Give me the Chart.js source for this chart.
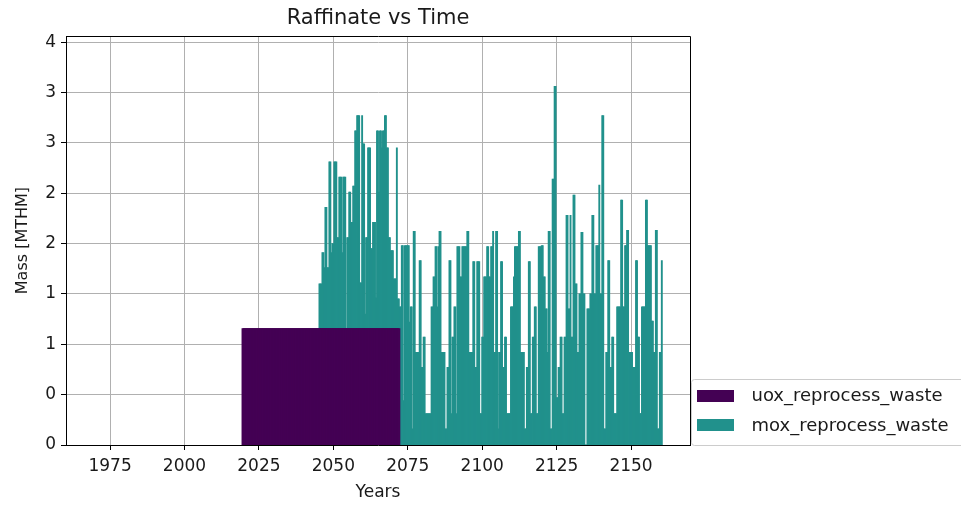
<!DOCTYPE html>
<html><head><meta charset="utf-8">
<script src="https://cdn.jsdelivr.net/npm/chart.js@4.4.1/dist/chart.umd.min.js"></script>
<style>html,body{margin:0;padding:0;background:#fff;}#wrap{width:961px;height:506px;}</style>
</head><body><div id="wrap"><canvas id="c" width="961" height="506"></canvas></div>
<script>
const seriesNames = ['uox_reprocess_waste', 'mox_reprocess_waste'];
const seriesColors = ['#440154', '#21918c'];
const timeStart = 2019 + 2 / 3;   // first time step (years)
const timeStep = 1 / 3;           // years per step
const uoxMass = [
1.15,1.15,1.15,1.15,1.15,1.15,1.15,1.15,1.15,1.15,1.15,1.15,1.15,1.15,1.15,1.15,1.15,1.15,1.15,1.15,
1.15,1.15,1.15,1.15,1.15,1.15,1.15,1.15,1.15,1.15,1.15,1.15,1.15,1.15,1.15,1.15,1.15,1.15,1.15,1.15,
1.15,1.15,1.15,1.15,1.15,1.15,1.15,1.15,1.15,1.15,1.15,1.15,1.15,1.15,1.15,1.15,1.15,1.15,1.15,1.15,
1.15,1.15,1.15,1.15,1.15,1.15,1.15,1.15,1.15,1.15,1.15,1.15,1.15,1.15,1.15,1.15,1.15,1.15,1.15,1.15,
1.15,1.15,1.15,1.15,1.15,1.15,1.15,1.15,1.15,1.15,1.15,1.15,1.15,1.15,1.15,1.15,1.15,1.15,1.15,1.15,
1.15,1.15,1.15,1.15,1.15,1.15,1.15,1.15,1.15,1.15,1.15,1.15,1.15,1.15,1.15,1.15,1.15,1.15,1.15,1.15,
1.15,1.15,1.15,1.15,1.15,1.15,1.15,1.15,1.15,1.15,1.15,1.15,1.15,1.15,1.15,1.15,1.15,1.15,1.15,1.15,
1.15,1.15,1.15,1.15,1.15,1.15,1.15,1.15,1.15,1.15,1.15,1.15,1.15,1.15,1.15,1.15,1.15,1.15
];
const moxStartIndex = 77;
const moxMass = [
0.45,0.45,0.45,0.76,0.76,0.61,1.21,1.21,0.61,0.61,
1.66,1.66,0.76,0.85,0.85,1.66,1.66,1.66,0.91,0.91,
1.51,1.51,1.51,0.76,1.51,1.51,1.51,0,0.91,0.91,
1.36,1.36,1.06,1.06,1.42,1.42,1.97,1.97,2.12,2.12,
2.12,0.46,0.46,2.12,1.84,1.84,0.15,0.91,0.91,1.80,
1.80,1.80,0.80,0.80,1.06,1.06,1.06,0.31,1.97,1.97,
1.36,1.97,1.97,1.80,1.97,1.97,2.12,2.12,1.80,1.80,
0.91,0.91,0.78,0.78,0.78,0.50,0.50,0.50,1.80,0.30,
0.30,1.37,1.37,1.98,1.98,0.44,1.98,1.98,1.98,1.98,
1.98,1.22,1.37,1.37,0.16,2.12,2.12,0.92,0.92,0.92,
0.92,1.83,1.83,0.77,0.77,1.07,1.07,0.31,0.31,0.31,
0.31,0.31,0.31,1.37,1.37,1.67,1.67,1.97,1.97,1.37,1.97,
2.12,2.12,0.92,0.92,0.92,0.92,0.16,0.16,0.77,0.77,
1.83,1.83,0.31,1.07,1.07,1.37,1.37,0.31,1.97,1.97,
1.97,1.67,1.67,1.97,1.97,1.97,1.97,1.97,2.12,2.12,
0.92,0.92,0.92,0.92,1.82,1.82,0.77,0.77,1.82,1.82,
1.82,0.31,0.31,1.07,1.07,1.67,1.67,1.67,1.97,1.97,
1.67,1.67,1.97,1.97,2.12,0.92,0.92,2.12,2.12,0.16,
0.92,0.92,1.82,1.82,0.77,0.77,1.07,1.07,0.31,0.31,
0.31,0.31,1.37,1.37,1.37,1.67,1.97,1.97,1.97,1.97,
2.12,2.12,0.92,0.92,0.92,0.92,0.16,0.16,0.77,0.77,
1.82,1.82,0.31,0.31,1.07,1.07,1.37,1.37,0.31,0.31,
1.97,1.97,1.97,1.98,1.98,1.67,1.67,1.35,1.35,0.92,2.12,
2.12,0.16,0.16,2.64,2.64,3.56,3.56,0.47,0.47,0.77,
0.77,1.07,1.07,0.31,0.31,1.07,1.07,2.28,2.28,1.35,
1.35,2.28,1.07,1.07,2.48,2.48,1.60,1.60,0.92,0.92,
1.50,1.50,2.11,2.11,1.50,1.50,0,0,1.35,1.35,
1.35,1.50,1.50,2.28,2.28,1.50,1.50,1.98,1.98,1.98,
2.58,1.50,1.50,3.27,3.27,0.16,0.16,0.92,0.92,1.83,
1.83,0.77,0.77,1.07,1.07,0.31,0.31,0.31,1.37,1.37,
1.37,1.37,2.43,2.43,1.37,1.37,1.98,1.98,2.13,2.13,
0.92,0.92,0.92,0.92,0.77,0.77,0.77,1.83,1.83,1.07,1.07,
0.31,0.31,1.37,1.37,1.37,1.37,2.43,2.43,1.98,1.98,
1.98,1.98,1.23,1.23,0.92,0.92,2.13,2.13,0.16,0.16,
0.92,0.92,1.83
];
const xTickValues = [1975, 2000, 2025, 2050, 2075, 2100, 2125, 2150];
const yTickValues = [0, 0.5, 1, 1.5, 2, 2.5, 3, 3.5, 4];
const yTickLabels = ['0', '0', '1', '1', '2', '2', '3', '3', '4'];

const FONT = "'DejaVu Sans', sans-serif";
const TEXT = '#1a1a1a';
const stepTime = (i) => timeStart + i * timeStep;

const uoxPoints = uoxMass.map((v, i) => ({ x: stepTime(i), y: v }));
const moxPoints = moxMass.map((v, i) => ({ x: stepTime(moxStartIndex + i), y: v }));

// matplotlib-like frame (top/right spines) and legend box outside the axes
const framePlugin = {
  id: 'frame',
  afterDraw(chart) {
    const { ctx, chartArea: a } = chart;
    const L = Math.round(a.left) + 0.5, T = Math.round(a.top) + 0.5;
    const R = Math.round(a.right) + 0.5, B = Math.round(a.bottom) + 0.5;
    ctx.save();
    ctx.strokeStyle = '#000';
    ctx.lineWidth = 1;
    ctx.beginPath();
    ctx.moveTo(L, T); ctx.lineTo(R, T); ctx.lineTo(R, B);
    ctx.stroke();
    // legend
    const x0 = R + 1, y0 = B - 66, x1 = chart.width + 6;
    ctx.fillStyle = '#fff';
    ctx.strokeStyle = '#cccccc';
    ctx.beginPath();
    ctx.roundRect(x0, y0, x1 - x0, B - y0, 3);
    ctx.fill();
    ctx.stroke();
    ctx.font = "18px 'DejaVu Sans', sans-serif";
    ctx.textBaseline = 'middle';
    ctx.textAlign = 'left';
    chart.data.datasets.forEach((ds, i) => {
      const cy = y0 + 16 + i * 29.5;
      ctx.fillStyle = ds.backgroundColor;
      ctx.fillRect(R + 6.5, Math.round(cy - 6), 37, 12);
      ctx.fillStyle = TEXT;
      ctx.fillText(ds.label, R + 61, cy + 1);
    });
    ctx.restore();
  }
};

new Chart(document.getElementById('c'), {
  type: 'bar',
  data: {
    datasets: [
      { label: seriesNames[0], data: uoxPoints, backgroundColor: seriesColors[0], borderWidth: 0, inflateAmount: 1 },
      { label: seriesNames[1], data: moxPoints, backgroundColor: seriesColors[1], borderWidth: 0, inflateAmount: 0.45 }
    ]
  },
  options: {
    responsive: false,
    animation: false,
    events: [],
    layout: { padding: { left: 0, right: 271, top: 0, bottom: 0 } },
    datasets: { bar: { barPercentage: 1, categoryPercentage: 1, grouped: false } },
    scales: {
      x: {
        type: 'linear', min: 1960.2, max: 2169.8, stacked: true, offset: false, z: 1,
        afterBuildTicks: (s) => { s.ticks = xTickValues.map(v => ({ value: v })); },
        afterFit: (s) => { s.height = 61; },
        ticks: { callback: (v) => String(v), color: TEXT, font: { size: 17, family: FONT }, padding: 6, maxRotation: 0, autoSkip: false },
        grid: { color: '#b0b0b0', lineWidth: 1, tickColor: '#000', tickLength: 5, offset: false },
        border: { display: true, color: '#000', width: 1 },
        title: { display: true, text: 'Years', color: TEXT, font: { size: 17, family: FONT }, padding: { top: 2, bottom: 3 } }
      },
      y: {
        type: 'linear', min: 0, max: 4.06, stacked: true, z: 1,
        afterBuildTicks: (s) => { s.ticks = yTickValues.map(v => ({ value: v })); },
        afterFit: (s) => { s.width = 66; },
        ticks: { callback: (v, i) => yTickLabels[i], color: TEXT, font: { size: 17, family: FONT }, padding: 5, autoSkip: false },
        grid: { color: '#b0b0b0', lineWidth: 1, tickColor: '#000', tickLength: 5, offset: false },
        border: { display: true, color: '#000', width: 1 },
        title: { display: true, text: 'Mass [MTHM]', color: TEXT, font: { size: 16, family: FONT }, padding: { top: 13, bottom: 0 } }
      }
    },
    plugins: {
      title: { display: true, text: 'Raffinate vs Time', fullSize: false, color: TEXT, font: { size: 21, weight: 'normal', family: FONT }, padding: { top: 6, bottom: 5 } },
      legend: { display: false },
      tooltip: { enabled: false }
    }
  },
  plugins: [framePlugin]
});
</script>
</body></html>
